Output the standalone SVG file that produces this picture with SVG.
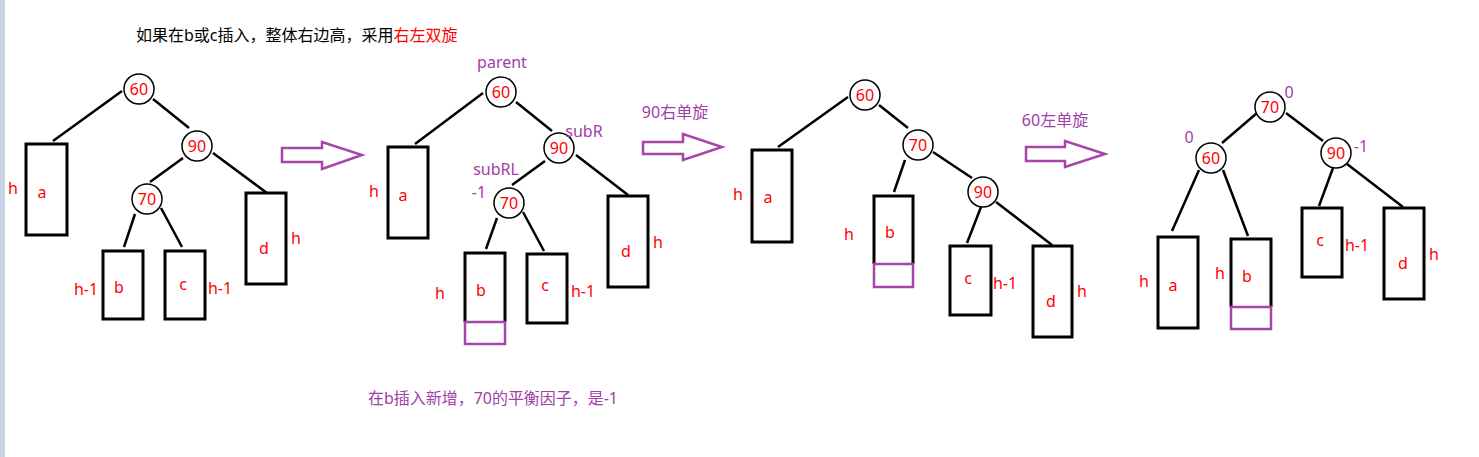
<svg xmlns="http://www.w3.org/2000/svg" width="1479" height="457" viewBox="0 0 1479 457">
<style>
text{font-family:"Noto Sans","Noto Sans CJK SC",sans-serif;font-size:16px;text-anchor:middle}
.r{fill:#ff0000}
.p{fill:#a040a8}
.k{fill:#000000}
.node circle{fill:#ffffff;stroke:#000;stroke-width:1.5}
.box{fill:none;stroke:#000;stroke-width:3}
.ins{fill:none;stroke:#a646a6;stroke-width:2.5}
.edges line{stroke:#000;stroke-width:2.5}
.arrow{fill:#ffffff;stroke:#a646a6;stroke-width:2.5}
</style>
<rect x="0" y="0" width="1479" height="457" fill="#ffffff"/>
<rect x="0" y="0" width="5" height="457" fill="#c8d4e4"/>

<text x="136" y="41" style="text-anchor:start" class="k">如果在b或c插入，整体右边高，采用<tspan class="r">右左双旋</tspan></text>

<!-- connectors -->
<g class="edges" id="connectors">
  <line x1="122" y1="91" x2="53" y2="141"/>
  <line x1="153" y1="99" x2="189" y2="128"/>
  <line x1="183" y1="158" x2="150" y2="182"/>
  <line x1="213" y1="153" x2="267" y2="193"/>
  <line x1="135" y1="214" x2="124" y2="247"/>
  <line x1="161" y1="208" x2="182" y2="247"/>

  <line x1="483" y1="93" x2="415" y2="144"/>
  <line x1="516" y1="102" x2="552" y2="131"/>
  <line x1="545" y1="161" x2="512" y2="185"/>
  <line x1="576" y1="155" x2="628" y2="195"/>
  <line x1="497" y1="218" x2="486" y2="249"/>
  <line x1="523" y1="212" x2="544" y2="251"/>

  <line x1="848" y1="97" x2="778" y2="147"/>
  <line x1="879" y1="105" x2="908" y2="128"/>
  <line x1="905" y1="160" x2="894" y2="192"/>
  <line x1="933" y1="152" x2="972" y2="178"/>
  <line x1="981" y1="207" x2="967" y2="243"/>
  <line x1="996" y1="202" x2="1052" y2="245"/>

  <line x1="1257" y1="113" x2="1222" y2="143"/>
  <line x1="1286" y1="113" x2="1323" y2="141"/>
  <line x1="1199" y1="170" x2="1172" y2="231"/>
  <line x1="1223" y1="170" x2="1248" y2="236"/>
  <line x1="1333" y1="168" x2="1319" y2="206"/>
  <line x1="1347" y1="164" x2="1403" y2="207"/>
</g>

<!-- Tree 1 -->
<g id="t1-60" class="node"><circle cx="139" cy="89" r="15"/><text x="139" y="95" class="r">60</text></g>
<g id="t1-90" class="node"><circle cx="197" cy="146" r="15"/><text x="197" y="152" class="r">90</text></g>
<g id="t1-70" class="node"><circle cx="147" cy="199" r="15"/><text x="147" y="205" class="r">70</text></g>
<g id="t1-a"><rect class="box" x="26" y="144" width="41" height="91"/><text x="42" y="198" class="r">a</text><text x="13" y="194" class="r">h</text></g>
<g id="t1-b"><rect class="box" x="103" y="251" width="40" height="68"/><text x="119" y="293" class="r">b</text><text x="86" y="295" class="r">h-1</text></g>
<g id="t1-c"><rect class="box" x="165" y="251" width="40" height="68"/><text x="183" y="290" class="r">c</text><text x="220" y="294" class="r">h-1</text></g>
<g id="t1-d"><rect class="box" x="246" y="193" width="40" height="91"/><text x="264" y="254" class="r">d</text><text x="296" y="244" class="r">h</text></g>

<g id="arrow1"><polygon class="arrow" points="282,148 322,148 322,142 362,155 322,169 322,162 282,162"/></g>

<!-- Tree 2 -->
<g id="t2-60" class="node"><circle cx="501" cy="92" r="15"/><text x="501" y="98" class="r">60</text><text x="502" y="68" class="p">parent</text></g>
<g id="t2-90" class="node"><circle cx="559" cy="148" r="15"/><text x="559" y="154" class="r">90</text><text x="584" y="137" class="p">subR</text></g>
<g id="t2-70" class="node"><circle cx="509" cy="203" r="15"/><text x="509" y="209" class="r">70</text><text x="496" y="175" class="p">subRL</text><text x="479" y="198" class="p">-1</text></g>
<g id="t2-a"><rect class="box" x="388" y="147" width="40" height="91"/><text x="403" y="201" class="r">a</text><text x="374" y="197" class="r">h</text></g>
<g id="t2-b"><path class="box" d="M465,322 V253 H505 V322"/><rect class="ins" x="465" y="322" width="40" height="22"/><text x="481" y="296" class="r">b</text><text x="440" y="299" class="r">h</text></g>
<g id="t2-c"><rect class="box" x="527" y="254" width="40" height="69"/><text x="545" y="291" class="r">c</text><text x="583" y="297" class="r">h-1</text></g>
<g id="t2-d"><rect class="box" x="608" y="196" width="40" height="91"/><text x="626" y="257" class="r">d</text><text x="658" y="248" class="r">h</text></g>

<g id="arrow2"><text x="675" y="118" class="p">90右单旋</text><polygon class="arrow" points="643,142 683,142 683,134 722,147 683,160 683,154 643,154"/></g>

<!-- Tree 3 -->
<g id="t3-60" class="node"><circle cx="865" cy="95" r="15"/><text x="865" y="101" class="r">60</text></g>
<g id="t3-70" class="node"><circle cx="918" cy="145" r="15"/><text x="918" y="151" class="r">70</text></g>
<g id="t3-90" class="node"><circle cx="983" cy="192" r="15"/><text x="983" y="198" class="r">90</text></g>
<g id="t3-a"><rect class="box" x="752" y="150" width="40" height="92"/><text x="768" y="203" class="r">a</text><text x="738" y="200" class="r">h</text></g>
<g id="t3-b"><path class="box" d="M874,264 V196 H913 V264"/><rect class="ins" x="874" y="264" width="39" height="23"/><text x="890" y="238" class="r">b</text><text x="849" y="240" class="r">h</text></g>
<g id="t3-c"><rect class="box" x="950" y="246" width="41" height="69"/><text x="968" y="284" class="r">c</text><text x="1005" y="289" class="r">h-1</text></g>
<g id="t3-d"><rect class="box" x="1033" y="246" width="39" height="91"/><text x="1051" y="307" class="r">d</text><text x="1082" y="297" class="r">h</text></g>

<g id="arrow3"><text x="1055" y="126" class="p">60左单旋</text><polygon class="arrow" points="1026,147 1065,147 1065,141 1105,154 1065,167 1065,161 1026,161"/></g>

<!-- Tree 4 -->
<g id="t4-70" class="node"><circle cx="1270" cy="107" r="15"/><text x="1270" y="113" class="r">70</text><text x="1289" y="98" class="p">0</text></g>
<g id="t4-60" class="node"><circle cx="1211" cy="158" r="15"/><text x="1211" y="164" class="r">60</text><text x="1189" y="143" class="p">0</text></g>
<g id="t4-90" class="node"><circle cx="1336" cy="153" r="15"/><text x="1336" y="159" class="r">90</text><text x="1361" y="152" class="p">-1</text></g>
<g id="t4-a"><rect class="box" x="1158" y="237" width="40" height="91"/><text x="1173" y="291" class="r">a</text><text x="1144" y="287" class="r">h</text></g>
<g id="t4-b"><path class="box" d="M1231,307 V239 H1271 V307"/><rect class="ins" x="1231" y="307" width="40" height="22"/><text x="1247" y="282" class="r">b</text><text x="1220" y="279" class="r">h</text></g>
<g id="t4-c"><rect class="box" x="1302" y="208" width="40" height="69"/><text x="1320" y="246" class="r">c</text><text x="1357" y="251" class="r">h-1</text></g>
<g id="t4-d"><rect class="box" x="1384" y="208" width="40" height="91"/><text x="1403" y="269" class="r">d</text><text x="1434" y="260" class="r">h</text></g>

<text x="368" y="404" style="text-anchor:start" class="p" textLength="250" lengthAdjust="spacingAndGlyphs">在b插入新增，70的平衡因子，是-1</text>
</svg>
